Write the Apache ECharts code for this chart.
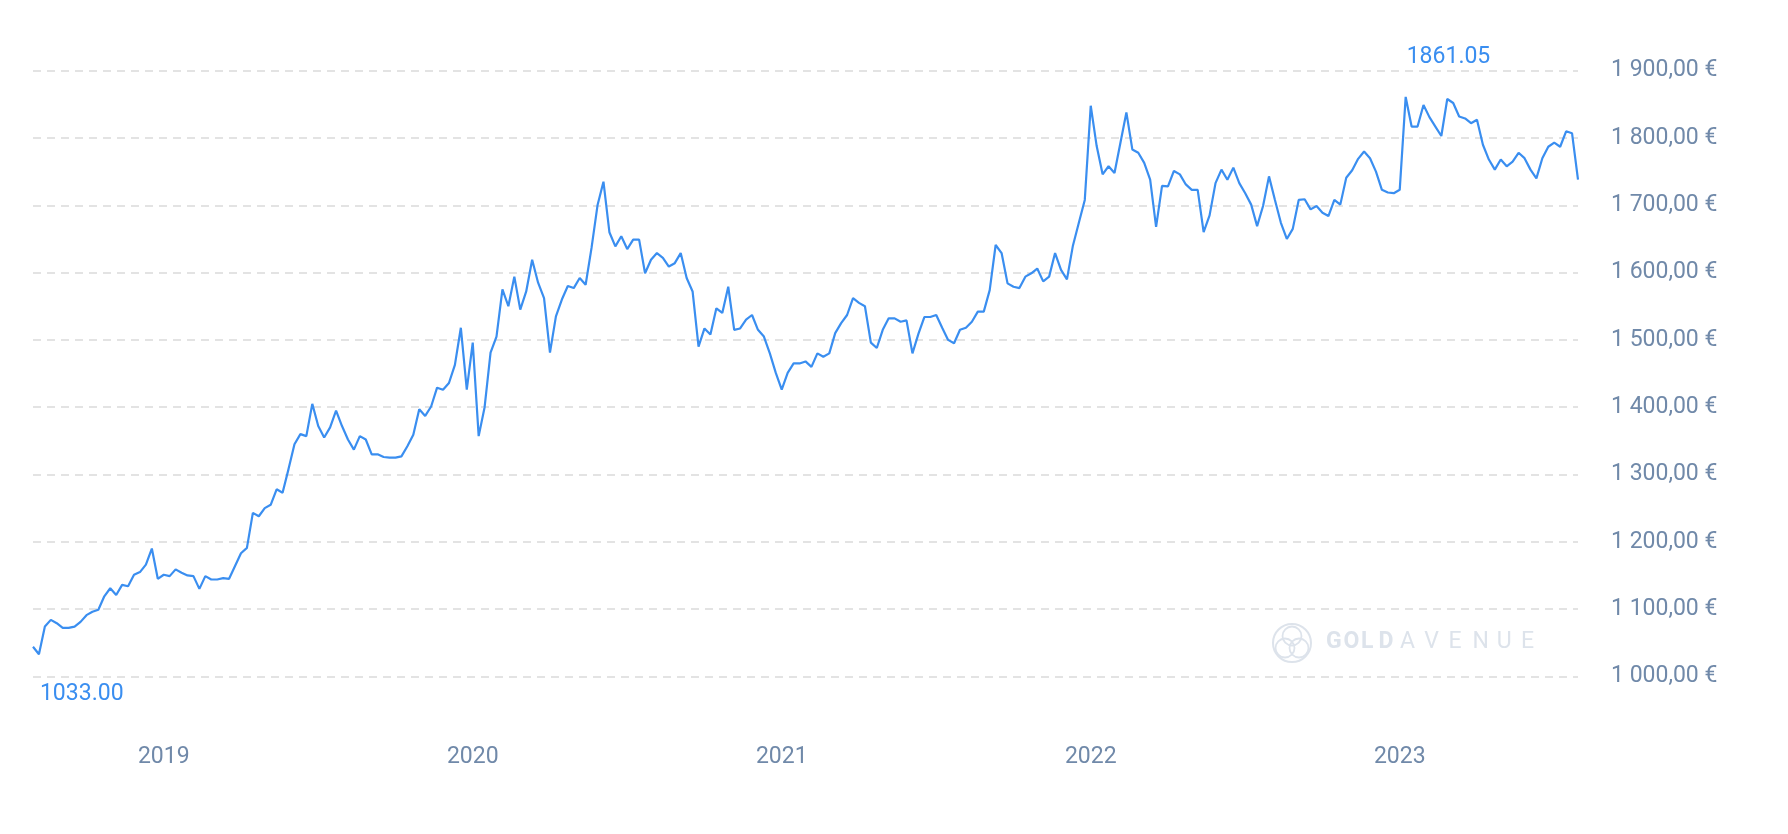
<!DOCTYPE html>
<html>
<head>
<meta charset="utf-8">
<script src="https://cdn.jsdelivr.net/npm/echarts@6/dist/echarts.min.js"></script>
<style>
  html, body { margin: 0; padding: 0; background: #fff; }
  #chart { width: 1788px; height: 834px; }
</style>
</head>
<body>
<div id="chart"></div>
<script>
// weekly gold price in EUR/oz (Oct 2018 - Oct 2023)
const firstWeek = Date.UTC(2018, 9, 8);
const prices = [
  1044, 1033, 1074, 1084, 1079, 1072, 1072, 1074, 1081, 1091,
  1096, 1099, 1119, 1131, 1121, 1136, 1134, 1151, 1155, 1166,
  1190, 1145, 1151, 1149, 1159, 1154, 1150, 1149, 1130, 1149,
  1144, 1144, 1146, 1145, 1164, 1183, 1191, 1243, 1238, 1250,
  1255, 1278, 1273, 1308, 1345, 1360, 1357, 1405, 1372, 1355,
  1370, 1395, 1372, 1352, 1337, 1357, 1352, 1330, 1330, 1326,
  1325, 1325, 1327, 1342, 1359, 1397, 1387, 1401, 1429, 1426,
  1436, 1463, 1518, 1426, 1496, 1357, 1400, 1481, 1505, 1575,
  1550, 1594, 1545, 1572, 1619, 1585, 1562, 1481, 1535, 1560,
  1580, 1577, 1592, 1582, 1637, 1700, 1735, 1660, 1639, 1654,
  1635, 1649, 1649, 1599, 1619, 1629, 1622, 1609, 1614, 1629,
  1592, 1572, 1490, 1517, 1508, 1547, 1540, 1579, 1515, 1517,
  1530, 1537, 1515, 1505, 1480, 1451, 1426, 1451, 1465, 1465,
  1468, 1460, 1480, 1475, 1480, 1510, 1525, 1537, 1562, 1555,
  1550, 1496, 1488, 1515, 1532, 1532, 1527, 1529, 1480, 1509,
  1534, 1534, 1537, 1518, 1500, 1495, 1515, 1518, 1527, 1542,
  1542, 1574, 1641, 1629, 1584, 1579, 1577, 1594, 1599, 1606,
  1587, 1594, 1629, 1604, 1590, 1640, 1674, 1708, 1848, 1788,
  1746, 1758, 1748, 1793, 1838, 1783, 1778, 1763, 1738, 1668,
  1729, 1728, 1751, 1746, 1731, 1723, 1723, 1660, 1685, 1733,
  1753, 1738, 1756, 1733, 1718, 1701, 1669, 1699, 1743, 1708,
  1674, 1650, 1665, 1708, 1709, 1694, 1699, 1689, 1684, 1708,
  1701, 1741, 1752, 1769, 1780, 1770, 1750, 1723, 1719, 1718,
  1723, 1861.05, 1817, 1817, 1849, 1831, 1817, 1803, 1858, 1852,
  1832, 1829, 1822, 1827, 1790, 1768, 1753, 1768, 1758, 1765,
  1778, 1770, 1753, 1740, 1770, 1787, 1793, 1787, 1810, 1807,
  1738
];
const yearTicks = ["2019-03-11", "2020-03-09", "2021-03-08", "2022-03-07", "2023-03-06"];
const yMin = 1000;
const yMax = 1900;
const yStep = 100;

const weeks = prices.map((p, i) =>
  new Date(firstWeek + i * 7 * 86400000).toISOString().slice(0, 10)
);

function euro(v) {
  const th = Math.floor(v / 1000);
  const rest = String(v % 1000).padStart(3, "0");
  return (th > 0 ? th + " " + rest : String(v)) + ",00 €";
}

const blue = "#3a8ef0";
const axisGrey = "#7089a9";
const markColor = "#dde3eb";

// watermark: logo + spaced letters
const wm = [];
"GOLD".split("").forEach((ch, i) => {
  wm.push({ type: "text", left: 1326 + i * 17.5, top: 631,
    style: { text: ch, font: "bold 23px Roboto", fill: markColor } });
});
"AVENUE".split("").forEach((ch, i) => {
  wm.push({ type: "text", left: 1400 + i * 24.2, top: 631,
    style: { text: ch, font: "23px Roboto", fill: markColor } });
});
wm.push({ type: "circle", shape: { cx: 1292, cy: 643, r: 19 },
  style: { fill: "none", stroke: markColor, lineWidth: 2 } });
[[1292, 636], [1285, 648], [1299, 648]].forEach(c => {
  wm.push({ type: "circle", shape: { cx: c[0], cy: c[1], r: 9.5 },
    style: { fill: "none", stroke: markColor, lineWidth: 1.8 } });
});

const option = {
  animation: false,
  backgroundColor: "#fff",
  textStyle: { fontFamily: "Roboto" },
  graphic: wm,
  grid: {
    left: 33,
    right: 210,
    top: 70.7,
    bottom: 157.6
  },
  xAxis: {
    type: "category",
    data: weeks,
    boundaryGap: false,
    axisLine: { show: false },
    axisTick: { show: false },
    splitLine: { show: false },
    axisLabel: {
      interval: (idx, val) => yearTicks.includes(val),
      formatter: val => val.slice(0, 4),
      color: axisGrey,
      fontSize: 23,
      margin: 69
    }
  },
  yAxis: {
    type: "value",
    position: "right",
    min: yMin,
    max: yMax,
    interval: yStep,
    axisLine: { show: false },
    axisTick: { show: false },
    axisLabel: {
      color: axisGrey,
      fontSize: 23,
      margin: 33,
      formatter: euro
    },
    splitLine: {
      lineStyle: { color: "#e3e3e3", width: 2, type: [8, 6] }
    }
  },
  series: [
    {
      type: "line",
      data: prices,
      showSymbol: false,
      lineStyle: { color: blue, width: 2.2 },
      itemStyle: { color: blue }
    }
  ]
};

const myChart = echarts.init(document.getElementById("chart"));
myChart.setOption(option);

// high / low labels, placed through the chart's own scales
const hi = prices.indexOf(Math.max(...prices));
const lo = prices.indexOf(Math.min(...prices));
const pHi = myChart.convertToPixel({ seriesIndex: 0 }, [hi, prices[hi]]);
const pLo = myChart.convertToPixel({ seriesIndex: 0 }, [lo, prices[lo]]);
const extremeLabel = (p, dy, v) => ({
  type: "text",
  x: p[0] + 1,
  y: p[1] + dy,
  style: {
    text: v.toFixed(2),
    font: "23px Roboto",
    fill: blue,
    align: "left",
    verticalAlign: "middle"
  }
});
myChart.setOption({
  graphic: wm.concat([
    extremeLabel(pHi, -40, prices[hi]),
    extremeLabel(pLo, 40, prices[lo])
  ])
});
</script>
</body>
</html>
